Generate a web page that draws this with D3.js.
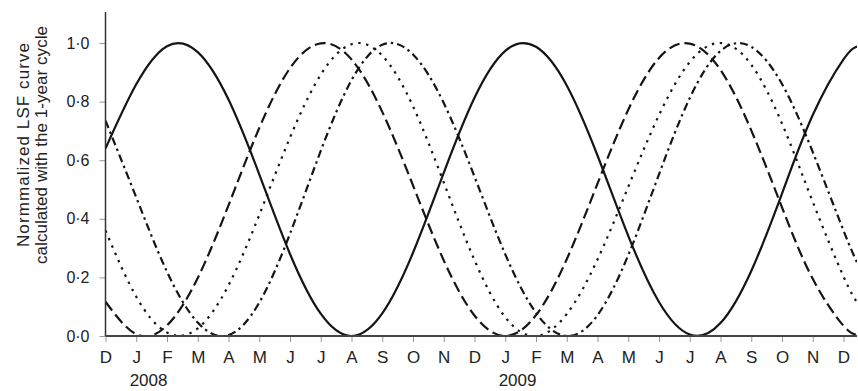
<!DOCTYPE html>
<html>
<head>
<meta charset="utf-8">
<script src="https://cdnjs.cloudflare.com/ajax/libs/d3/7.8.5/d3.min.js"></script>
<style>
  body { margin: 0; background: #fff; }
  svg text { font-family: "Liberation Sans", Arial, sans-serif; fill: #222; }
</style>
</head>
<body>
<div id="chart"></div>
<script>
// month ticks, Dec 2007 .. Dec 2009
const monthLabels = ["D","J","F","M","A","M","J","J","A","S","O","N",
                     "D","J","F","M","A","M","J","J","A","S","O","N","D"];
const years = ["2008", "2009"];
const yTicks = [0, 0.2, 0.4, 0.6, 0.8, 1.0];

// sample positions (months after the Dec 2007 tick)
const monthIndex = [0,1,2,3,4,5,6,7,8,9,10,11,12,13,14,15,16,17,18,19,20,21,22,23,24,24.45];

// values
const solidCurve   = [0.64,0.859,0.989,0.969,0.807,0.552,0.280,0.076,0,0.077,0.284,0.557,0.813,
                      0.973,0.987,0.855,0.616,0.342,0.116,0.005,0.044,0.222,0.486,0.754,0.944,0.988];
const dashedCurve  = [0.117,0.006,0.036,0.198,0.446,0.710,0.914,0.999,0.944,0.765,0.514,0.258,0.070,
                      0,0.071,0.262,0.520,0.772,0.949,0.998,0.908,0.702,0.439,0.195,0.035,0.005];
const dottedCurve  = [0.360,0.134,0.012,0.026,0.173,0.413,0.677,0.892,0.996,0.957,0.784,0.524,0.259,
                      0.064,0,0.075,0.261,0.509,0.754,0.935,1.0,0.926,0.725,0.458,0.203,0.114];
const dashDotCurve = [0.735,0.473,0.219,0.046,0.003,0.114,0.349,0.632,0.873,0.994,0.961,0.795,0.544,
                      0.279,0.079,0,0.071,0.276,0.552,0.812,0.973,0.987,0.860,0.628,0.360,0.249];

const W = 858, H = 391;
const mLeft = 105.5, mBottom = 336, mTop = 12, mRight = 857;

const svg = d3.select("#chart").append("svg")
  .attr("width", W)
  .attr("height", H);

const x = d3.scaleLinear().domain([0, 24]).range([mLeft, 843.5]);
const y = d3.scaleLinear().domain([0, 1]).range([mBottom, 43]);

svg.append("clipPath").attr("id", "plot")
  .append("rect")
  .attr("x", mLeft).attr("y", 0)
  .attr("width", mRight - mLeft).attr("height", mBottom + 1);

const lineGen = d3.line()
  .x(d => x(d[0]))
  .y(d => y(d[1]))
  .curve(d3.curveNatural);

const series = [
  {values: dottedCurve,  dash: "2.4,5.6"},
  {values: dashDotCurve, dash: "8,4,2.4,4"},
  {values: dashedCurve,  dash: "11,5"},
  {values: solidCurve,   dash: null}
];

const g = svg.append("g").attr("clip-path", "url(#plot)");
series.forEach(s => {
  g.append("path")
    .datum(monthIndex.map((t, i) => [t, s.values[i]]))
    .attr("d", lineGen)
    .attr("fill", "none")
    .attr("stroke", "#151515")
    .attr("stroke-width", 2.2)
    .attr("stroke-dasharray", s.dash);
});

// y axis
const yAxis = svg.append("g")
  .attr("transform", `translate(${mLeft},0)`)
  .call(d3.axisLeft(y).tickValues(yTicks).tickSize(6).tickPadding(10)
    .tickFormat(d => d3.format(".1f")(d).replace(".", "\u00b7")));
yAxis.select(".domain").remove();
yAxis.selectAll(".tick line").attr("stroke", "#999");
yAxis.selectAll("text").style("font-size", "16px");

// x axis
const xAxis = svg.append("g")
  .attr("transform", `translate(0,${mBottom})`)
  .call(d3.axisBottom(x).tickValues(d3.range(monthLabels.length)).tickSize(6).tickPadding(9)
    .tickFormat(i => monthLabels[i]));
xAxis.select(".domain").remove();
xAxis.selectAll(".tick line").attr("stroke", "#999");
xAxis.selectAll("text").style("font-size", "17px");

svg.append("line")
  .attr("x1", mLeft).attr("x2", mLeft)
  .attr("y1", mTop).attr("y2", mBottom)
  .attr("stroke", "#333").attr("stroke-width", 1.5);
svg.append("line")
  .attr("x1", mLeft).attr("x2", mRight)
  .attr("y1", mBottom).attr("y2", mBottom)
  .attr("stroke", "#444").attr("stroke-width", 1.8);

// years under January
svg.selectAll(".year")
  .data(years)
  .enter()
  .append("text")
  .attr("class", "year")
  .attr("x", (d, i) => x(1 + 12 * i + 0.4))
  .attr("y", 386)
  .attr("text-anchor", "middle")
  .style("font-size", "17px")
  .text(d => d);

// y title
const title = svg.append("text")
  .attr("transform", "translate(0,145) rotate(-90)")
  .attr("text-anchor", "middle")
  .style("font-size", "17px");
title.append("tspan").attr("x", 0).attr("y", 28.5)
  .attr("textLength", 204).attr("lengthAdjust", "spacing")
  .text("Normmalized LSF curve");
title.append("tspan").attr("x", 0).attr("y", 46.5)
  .attr("textLength", 238).attr("lengthAdjust", "spacing")
  .text("calculated with the 1-year cycle");
</script>
</body>
</html>
